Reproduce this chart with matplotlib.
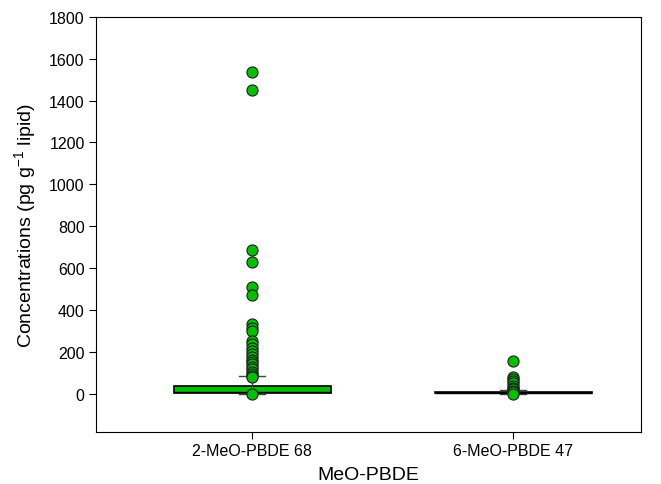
import matplotlib
matplotlib.use('Agg')
import matplotlib.pyplot as plt

plt.rcParams['font.family'] = ['Liberation Sans', 'DejaVu Sans']
plt.rcParams['mathtext.default'] = 'regular'

# box summary values
groups = ['2-MeO-PBDE 68', '6-MeO-PBDE 47']
q1 = [3, 2]
median = [8, 4]
q3 = [35, 6]
whislo = [0, 0]
whishi = [83, 15]
fliers = [
    [1535, 1450, 685, 630, 510, 470, 330, 315, 300, 250, 235, 220, 205,
     190, 175, 160, 150, 140, 128, 118, 105, 95, 85, 80, -3],
    [155, 78, 68, 58, 48, 38, 28, 20, 12, 5, -2],
]
box_colors = ['#00c000', 'black']

stats = []
for i, g in enumerate(groups):
    stats.append(dict(label=g, q1=q1[i], med=median[i], q3=q3[i],
                      whislo=whislo[i], whishi=whishi[i], fliers=fliers[i]))

fig, ax = plt.subplots(figsize=(6.61, 4.85), dpi=100)
fig.subplots_adjust(left=0.145, right=0.97, top=0.963, bottom=0.108)

bp = ax.bxp(stats, positions=[1, 2], widths=0.6, patch_artist=True,
            showfliers=True,
            boxprops=dict(edgecolor='black', linewidth=1.2),
            medianprops=dict(color='black', linewidth=1),
            whiskerprops=dict(color='#444444', linewidth=1),
            capprops=dict(color='#444444', linewidth=1),
            capwidths=0.1,
            flierprops=dict(marker='o', markerfacecolor='#00c000',
                            markeredgecolor='#202020', markersize=8,
                            markeredgewidth=0.8, linestyle='none'))
for patch, c in zip(bp['boxes'], box_colors):
    patch.set_facecolor(c)
# draw fliers above the boxes
for fl in bp['fliers']:
    fl.set_zorder(4)

ax.set_xlim(0.4, 2.49)
ax.set_ylim(-182, 1800)
ax.set_yticks(range(0, 1801, 200))
ax.set_xticks([1, 2])
ax.set_xticklabels(groups)
ax.tick_params(axis='both', direction='out', labelsize=11.5, length=5,
               pad=3, top=False, right=False)
ax.set_ylabel('Concentrations (pg g$^{-1}$ lipid)', fontsize=14, labelpad=8)
ax.set_xlabel('MeO-PBDE', fontsize=14, labelpad=6)

fig.savefig('out.png', dpi=100)
